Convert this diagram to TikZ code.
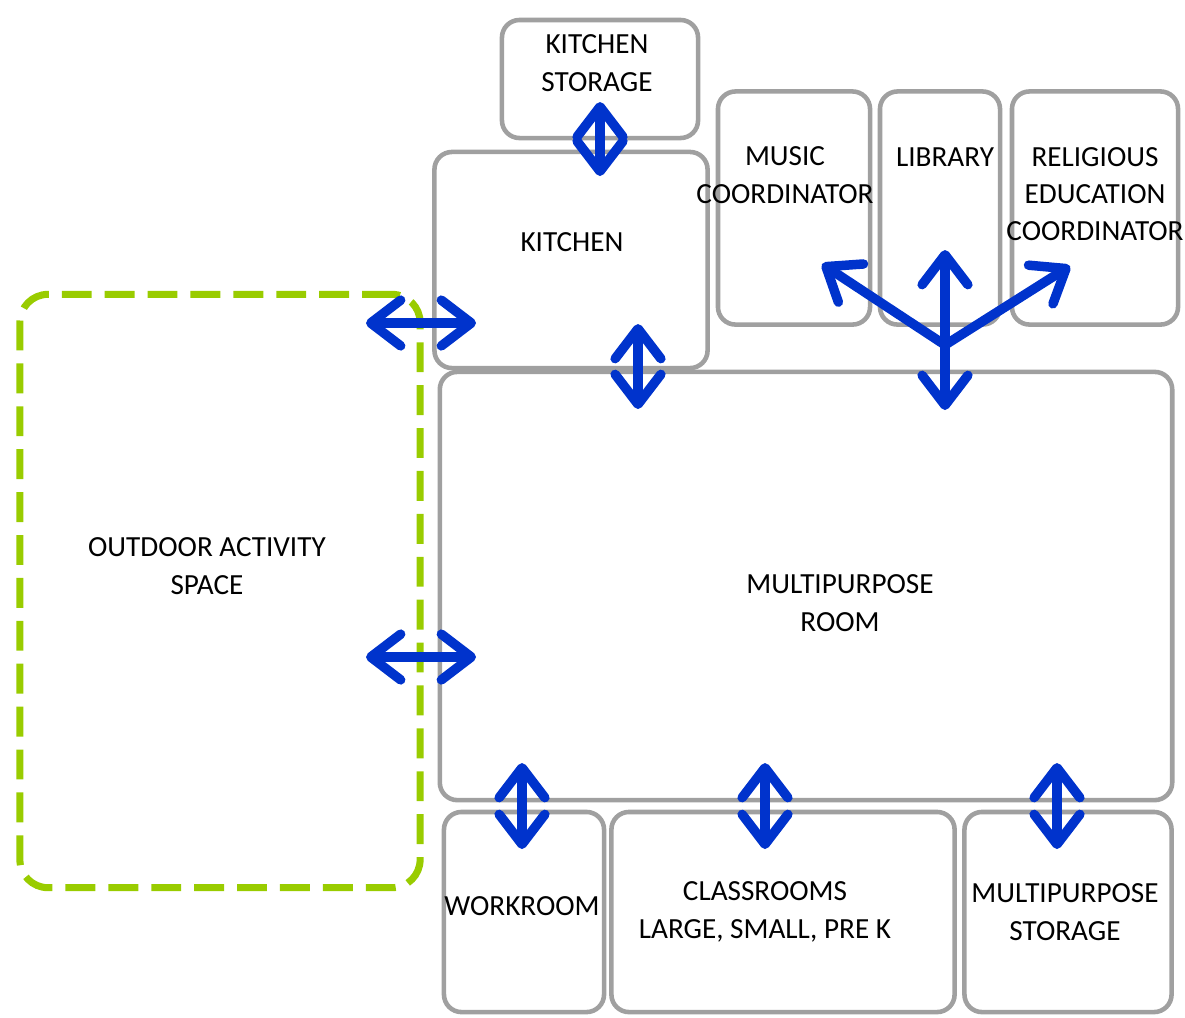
\documentclass[tikz,border=0pt]{standalone}
\usepackage{fontspec}
\setmainfont{Carlito}
\usetikzlibrary{positioning, arrows.meta}
\definecolor{roomgrey}{RGB}{160,160,160}
\definecolor{linkblue}{RGB}{0,51,204}
\definecolor{yardgreen}{RGB}{153,204,0}
\tikzset{
  room/.style={draw=roomgrey, line width=1.3pt, rounded corners=5pt, inner sep=0pt},
  yard/.style={draw=yardgreen, line width=2pt, dash pattern=on 8.5pt off 3.7pt, rounded corners=8pt, inner sep=0pt},
  tag/.style={font=\fontsize{8.3}{10.6}\selectfont, align=center, inner sep=0pt},
  barb/.tip={Straight Barb[length=8.5pt, width=13pt, line width=2.7pt, line cap=round, line join=round]},
  link/.style={draw=linkblue, line width=2.7pt, line cap=round, barb-barb},
  spoke/.style={draw=linkblue, line width=2.7pt, line cap=round, -barb}
}
\begin{document}
\begin{tikzpicture}[x=0.01cm, y=-0.01cm]
    \useasboundingbox (0,0) rectangle (1185,1017);

    % Rooms
    \node[room, minimum width=1.96cm, minimum height=1.18cm] (kstore) at (600,79) {};
    \node[room, minimum width=2.73cm, minimum height=2.16cm] (kitchen) at (571,260) {};
    \node[room, minimum width=1.52cm, minimum height=2.33cm] (music) at (794,208) {};
    \node[room, minimum width=1.20cm, minimum height=2.33cm] (library) at (940,208) {};
    \node[room, minimum width=1.66cm, minimum height=2.33cm] (relig) at (1095,208) {};
    \node[room, minimum width=7.32cm, minimum height=4.28cm] (mproom) at (806,586) {};
    \node[room, minimum width=1.60cm, minimum height=2.00cm] (work) at (524,912) {};
    \node[room, minimum width=3.43cm, minimum height=2.00cm] (class) at (783,912) {};
    \node[room, minimum width=2.07cm, minimum height=2.00cm] (mpstore) at (1068,912) {};

    % Outdoor space
    \node[yard, minimum width=4.00cm, minimum height=5.93cm] (outdoor) at (220,591) {};

    % Labels
    \node[tag] (kstoreT) at (597,63) {KITCHEN\\STORAGE};
    \node[tag] (kitchenT) at (572,242) {KITCHEN};
    \node[tag] (musicT) at (785,175) {MUSIC\\COORDINATOR};
    \node[tag] (libraryT) at (945,157) {LIBRARY};
    \node[tag] (religT) at (1095,194) {RELIGIOUS\\EDUCATION\\COORDINATOR};
    \node[tag] (mproomT) at (840,603) {MULTIPURPOSE\\ROOM};
    \node[tag] (outdoorT) at (207,566) {OUTDOOR ACTIVITY\\SPACE};
    \node[tag] (workT) at (522,906) {WORKROOM};
    \node[tag] (classT) at (765,912) {CLASSROOMS\\LARGE, SMALL, PRE K};
    \node[tag] (mpstoreT) at (1065,912) {MULTIPURPOSE\\STORAGE};

    % Arrow ends
    \coordinate (a1) at (600,102); \coordinate (b1) at (600,176);
    \coordinate (a2) at (366,323); \coordinate (b2) at (476,323);
    \coordinate (a3) at (638,324); \coordinate (b3) at (638,409);
    \coordinate (a4) at (366,657); \coordinate (b4) at (476,657);
    \coordinate (a5) at (522,763); \coordinate (b5) at (522,849);
    \coordinate (a6) at (765,763); \coordinate (b6) at (765,849);
    \coordinate (a7) at (1057,763); \coordinate (b7) at (1057,849);
    \coordinate (hub) at (945,345);
    \coordinate (toMusic) at (822,264);
    \coordinate (toLibrary) at (945,250);
    \coordinate (toRelig) at (1070,266);
    \coordinate (toRoom) at (945,410);

    % Links
    \foreach \i in {1,...,7} {
        \draw[link] (a\i) -- (b\i);
    }
    \foreach \e in {toMusic, toLibrary, toRelig, toRoom} {
        \draw[spoke] (hub) -- (\e);
    }
\end{tikzpicture}
\end{document}
